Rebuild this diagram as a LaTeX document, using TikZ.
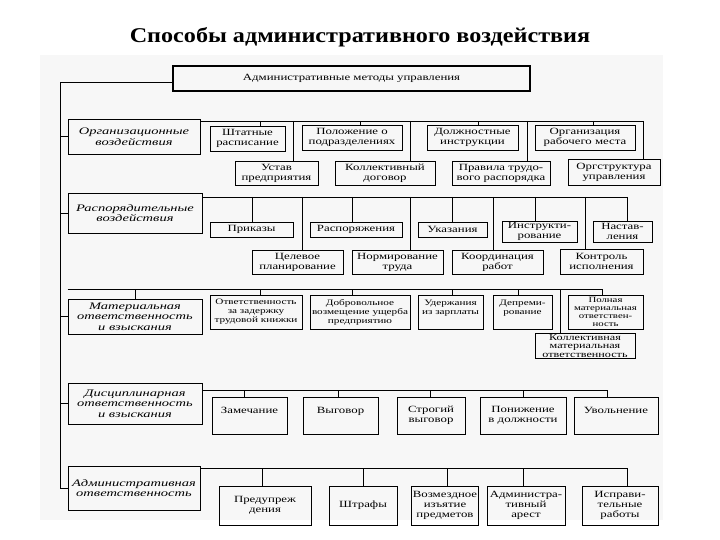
\documentclass[tikz,border=0pt]{standalone}
\usepackage{fontspec}
\setmainfont{Liberation Serif}
\newfontfamily\boxfont[FakeStretch=1.35]{Liberation Serif}
\newfontfamily\catfont[FakeStretch=1.45]{Liberation Serif}
\newfontfamily\titlefont[FakeStretch=1.15]{Liberation Serif}
\usetikzlibrary{positioning}
\tikzset{
  bx/.style={draw, line width=.9pt, inner sep=1pt, align=center,
    font=\boxfont\fontsize{9.5}{10}\selectfont},
  small/.style={bx, font=\boxfont\fontsize{8.3}{9}\selectfont},
  cat/.style={bx, font=\catfont\itshape\fontsize{10}{10.5}\selectfont},
  wire/.style={line width=.8pt},
}
% box given by its corners: name, x1, y1, x2, y2, text
\newcommand\cell[7][bx]{%
  \node[#1, minimum width={(#5-#3)*1pt}, minimum height={(#6-#4)*1pt}]
    (#2) at ({(#3+#5)/2},{(#4+#6)/2}) {#7};}

\begin{document}
\begin{tikzpicture}[x=1pt,y=-1pt]
  \useasboundingbox (0,0) rectangle (720,540);
  \fill[black!3] (40,55) rectangle (663,520);
  \node[font=\titlefont\bfseries\fontsize{21}{24}\selectfont, anchor=base]
    (title) at (360,43) {Способы административного воздействия};
  \cell[bx, line width=2.6pt]{top}{173}{66}{530}{91}{Административные методы управления}

  % categories
  \cell[cat]{c1}{68}{119}{200}{154}{Организационные\\воздействия}
  \cell[cat]{c2}{68}{193}{202}{233}{Распорядительные\\воздействия}
  \cell[cat]{c3}{68}{299}{202}{334}{Материальная\\ответственность\\и взыскания}
  \cell[cat]{c4}{68}{383}{202}{424}{Дисциплинарная\\ответственность\\и взыскания}
  \cell[cat]{c5}{68}{466}{200}{510}{Административная\\ответственность}

  \coordinate (sp) at (60,82);
  \draw[wire] (top.west |- sp) -- (sp) |- (c5.west);
  \foreach \c in {c1,c2,c3,c4} \draw[wire] (sp |- \c.west) -- (\c.west);

  % organisational
  \cell{sht}{210}{126}{285}{151}{Штатные\\расписание}
  \cell{pol}{302}{125}{402}{150}{Положение о\\подразделениях}
  \cell{dol}{427}{125}{518}{150}{Должностные\\инструкции}
  \cell{org}{535}{125}{635}{150}{Организация\\рабочего места}
  \cell{ust}{235}{161}{318}{185}{Устав\\предприятия}
  \cell{kol}{335}{161}{435}{185}{Коллективный\\договор}
  \cell{prv}{452}{161}{550}{185}{Правила трудо-\\вого распорядка}
  \cell{ogs}{568}{159}{660}{185}{Оргструктура\\управления}
  \coordinate (b1) at (c1.east |- 0,121);
  \coordinate (b1e) at (643,121);
  \draw[wire] (b1) -- (b1e);
  \foreach \n/\x in {sht/260,pol/360,dol/478,org/593,ust/293,kol/410,prv/527,ogs/643}
    \draw[wire] (b1 -| \x,0) -- (\n.north -| \x,0);

  % directive
  \cell{prk}{210}{222}{293}{237}{Приказы}
  \cell{rsp}{310}{222}{402}{237}{Распоряжения}
  \cell{uka}{418}{222}{487}{237}{Указания}
  \cell{ins}{502}{221}{577}{242}{Инструкти-\\рование}
  \cell{nas}{593}{221}{652}{242}{Настав-\\ления}
  \cell{cel}{252}{250}{343}{274}{Целевое\\планирование}
  \cell{nrm}{352}{250}{443}{274}{Нормирование\\труда}
  \cell{krd}{452}{250}{543}{274}{Координация\\работ}
  \cell{knt}{560}{249}{643}{274}{Контроль\\исполнения}
  \coordinate (b2) at (c2.east |- 0,197);
  \coordinate (b2e) at (627,197);
  \draw[wire] (b2) -- (b2e);
  \foreach \n/\x in {prk/252,rsp/352,uka/452,ins/535,nas/627,cel/302,nrm/410,krd/493,knt/585}
    \draw[wire] (b2 -| \x,0) -- (\n.north -| \x,0);

  % material
  \cell[small]{otv}{210}{295}{302}{329}{Ответственность\\за задержку\\трудовой книжки}
  \cell[small]{dob}{310}{295}{410}{329}{Добровольное\\возмещение ущерба\\предприятию}
  \cell[small]{ude}{418}{295}{483}{329}{Удержания\\из зарплаты\\\mbox{}}
  \cell[small]{dep}{493}{295}{552}{329}{Депреми-\\рование\\\mbox{}}
  \cell[bx, font=\boxfont\fontsize{8}{8}\selectfont]{pma}{568}{295}{643}{329}{Полная\\материальная\\ответствен-\\ность}
  \cell[bx, font=\boxfont\fontsize{9}{8.5}\selectfont]{kma}{535}{334}{635}{358}{Коллективная\\материальная\\ответственность}
  \coordinate (b3) at (c3.west |- 0,289);
  \coordinate (b3e) at (602,289);
  \draw[wire] (b3) -- (b3e);
  \draw[wire] (b3 -| c3.north) -- (c3.north);
  \foreach \n/\x in {otv/260,dob/352,ude/452,dep/518,pma/602,kma/560}
    \draw[wire] (b3 -| \x,0) -- (\n.north -| \x,0);

  % disciplinary
  \cell{zam}{212}{397}{287}{434}{Замечание\\\mbox{}}
  \cell{vyg}{303}{397}{378}{434}{Выговор\\\mbox{}}
  \cell{str}{397}{397}{465}{434}{Строгий\\выговор}
  \cell{pon}{480}{397}{566}{434}{Понижение\\в должности}
  \cell{uvo}{574}{397}{658}{434}{Увольнение\\\mbox{}}
  \coordinate (b4) at (c4.east |- 0,390);
  \coordinate (b4e) at (607,390);
  \draw[wire] (b4) -- (b4e);
  \foreach \n/\x in {zam/244,vyg/338,str/430,pon/523,uvo/607}
    \draw[wire] (b4 -| \x,0) -- (\n.north -| \x,0);

  % administrative
  \cell{pre}{219}{486}{311}{525}{Предупреж\\дения}
  \cell{shr}{329}{486}{397}{525}{Штрафы}
  \cell{voz}{412}{486}{478}{525}{Возмездное\\изъятие\\предметов}
  \cell{ars}{487}{486}{565}{525}{Администра-\\тивный\\арест}
  \cell{isp}{582}{486}{658}{525}{Исправи-\\тельные\\работы}
  \coordinate (b5) at (c5.east |- 0,468);
  \coordinate (b5e) at (627,468);
  \draw[wire] (b5) -- (b5e);
  \foreach \n/\x in {pre/262,shr/363,voz/447,ars/523,isp/627}
    \draw[wire] (b5 -| \x,0) -- (\n.north -| \x,0);
\end{tikzpicture}
\end{document}
